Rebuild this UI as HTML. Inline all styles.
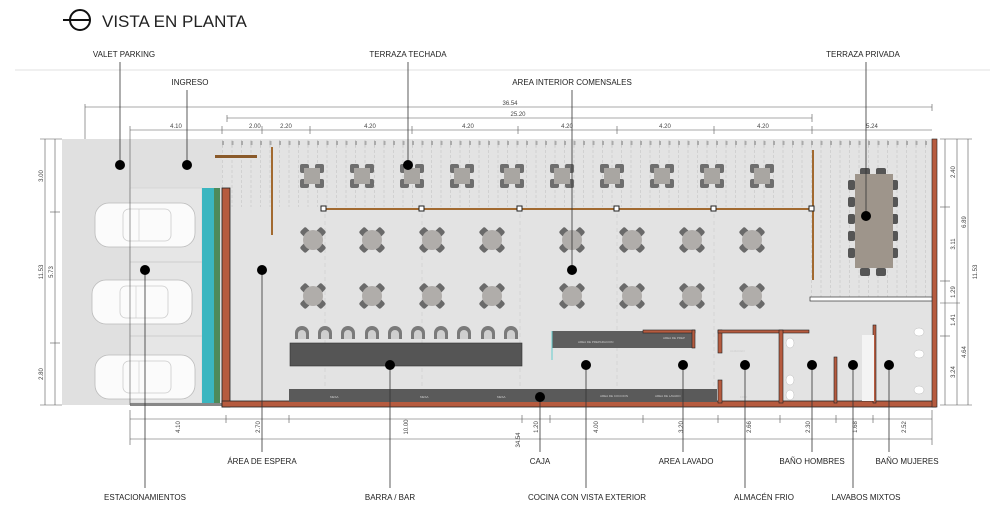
<!DOCTYPE html>
<html><head><meta charset="utf-8"><style>
html,body{margin:0;padding:0;background:#fff;width:1000px;height:528px;overflow:hidden}
svg{display:block;font-family:"Liberation Sans",Arial,sans-serif}
.lb{font-size:8px;fill:#222}
.dm{font-size:6px;fill:#444}
</style></head><body>
<svg width="1000" height="528" viewBox="0 0 1000 528" xmlns="http://www.w3.org/2000/svg">
<defs>
 <g id="t1"><g fill="#6e6e6e"><rect x="-12" y="-12" width="9" height="9" rx="2" transform="rotate(0)"/><rect x="3" y="-12" width="9" height="9" rx="2"/><rect x="-12" y="3" width="9" height="9" rx="2"/><rect x="3" y="3" width="9" height="9" rx="2"/></g><rect x="-8" y="-8" width="16" height="16" fill="#a9a6a2"/></g>
 <g id="t2"><g fill="#6a6a6a" transform="rotate(45)"><rect x="-4" y="-15" width="8" height="8" rx="2"/><rect x="-4" y="7" width="8" height="8" rx="2"/><rect x="-15" y="-4" width="8" height="8" rx="2"/><rect x="7" y="-4" width="8" height="8" rx="2"/></g><circle r="10" fill="#b0adaa"/></g>
 <g id="ch"><path d="M-7 6 V0 A7 7 0 0 1 7 0 V6 Z" fill="#7a7a7a"/><path d="M-4 6 V1 A4 4 0 0 1 4 1 V6 Z" fill="#cfcfcf"/></g>
 <g id="car"><rect x="0" y="0" width="100" height="44" rx="14" fill="#fbfbfb" stroke="#bbb" stroke-width="0.8"/><rect x="28" y="6" width="48" height="32" rx="6" fill="none" stroke="#ccc" stroke-width="0.8"/><line x1="44" y1="6" x2="44" y2="38" stroke="#ccc" stroke-width="0.6"/></g>
 <pattern id="sl" width="9.5" height="10" patternUnits="userSpaceOnUse"><line x1="4" y1="0" x2="4" y2="10" stroke="#c9c9c9" stroke-width="0.7" stroke-dasharray="3 2"/></pattern>
</defs>

<!-- title -->
<circle cx="80" cy="20" r="10" fill="none" stroke="#111" stroke-width="2"/>
<line x1="63" y1="20" x2="90" y2="20" stroke="#111" stroke-width="2"/>
<text x="102" y="27" font-size="17" fill="#222">VISTA EN PLANTA</text>
<line x1="15" y1="70" x2="990" y2="70" stroke="#e2e2e2"/>

<!-- floor -->
<rect x="62" y="139" width="870" height="266" fill="#e3e3e3"/>
<rect x="62" y="139" width="160" height="266" fill="#e0e0e0"/>
<rect x="130" y="188" width="72" height="215" fill="#e6e6e6" stroke="#cfcfcf" stroke-width="0.6"/>
<line x1="130" y1="262" x2="202" y2="262" stroke="#cfcfcf"/><line x1="130" y1="336" x2="202" y2="336" stroke="#cfcfcf"/>
<rect x="130" y="403" width="92" height="3" fill="#888"/>
<!-- terraces slats -->
<rect x="222" y="139" width="588" height="68" fill="url(#sl)"/>
<rect x="810" y="139" width="122" height="160" fill="url(#sl)"/>
<g fill="#ddd" stroke="#999" stroke-width="0.5">
<rect x="222" y="139" width="710" height="8" fill="url(#sl)" stroke="none"/>
</g>
<line x1="222" y1="143" x2="932" y2="143" stroke="#aaa" stroke-width="4" stroke-dasharray="2 7.5"/>
<!-- dashed grid -->
<g stroke="#cfcfcf" stroke-width="0.7" stroke-dasharray="4 3">
<line x1="325" y1="207" x2="325" y2="400"/><line x1="422" y1="207" x2="422" y2="400"/><line x1="520" y1="207" x2="520" y2="400"/><line x1="617" y1="207" x2="617" y2="400"/><line x1="714" y1="207" x2="714" y2="400"/>
</g>
<!-- cars -->
<use href="#car" x="95" y="203"/><use href="#car" x="92" y="280"/><use href="#car" x="95" y="355"/>
<!-- water -->
<rect x="202" y="188" width="18" height="215" fill="#3bb6c0"/>
<rect x="214" y="188" width="6" height="215" fill="#4e8a5a"/>
<!-- walls -->
<rect x="222" y="188" width="8" height="219" fill="#b65b3f" stroke="#222" stroke-width="0.8"/>
<rect x="222" y="401" width="714" height="6" fill="#b65b3f" stroke="#222" stroke-width="0.8"/>
<rect x="932" y="139" width="5" height="268" fill="#b65b3f" stroke="#222" stroke-width="0.6"/>
<rect x="215" y="155" width="42" height="3" fill="#8a5a2a"/>
<rect x="271" y="147" width="2" height="88" fill="#a26a30"/>
<rect x="325" y="208" width="488" height="2" fill="#a26a30"/>
<rect x="812" y="150" width="2" height="130" fill="#a26a30"/>
<g fill="#fff" stroke="#222" stroke-width="1"><rect x="321" y="206" width="5" height="5"/><rect x="419" y="206" width="5" height="5"/><rect x="517" y="206" width="5" height="5"/><rect x="614" y="206" width="5" height="5"/><rect x="711" y="206" width="5" height="5"/><rect x="809" y="206" width="5" height="5"/></g>
<rect x="810" y="297" width="122" height="4" fill="#fff" stroke="#333" stroke-width="0.7"/>
<!-- tables top row -->
<use href="#t1" x="312" y="176"/><use href="#t1" x="362" y="176"/><use href="#t1" x="412" y="176"/><use href="#t1" x="462" y="176"/><use href="#t1" x="512" y="176"/><use href="#t1" x="562" y="176"/><use href="#t1" x="612" y="176"/><use href="#t1" x="662" y="176"/><use href="#t1" x="712" y="176"/><use href="#t1" x="762" y="176"/>
<use href="#t2" x="313" y="240"/><use href="#t2" x="372" y="240"/><use href="#t2" x="432" y="240"/><use href="#t2" x="492" y="240"/><use href="#t2" x="572" y="240"/><use href="#t2" x="632" y="240"/><use href="#t2" x="692" y="240"/><use href="#t2" x="752" y="240"/>
<use href="#t2" x="313" y="296"/><use href="#t2" x="372" y="296"/><use href="#t2" x="432" y="296"/><use href="#t2" x="492" y="296"/><use href="#t2" x="572" y="296"/><use href="#t2" x="632" y="296"/><use href="#t2" x="692" y="296"/><use href="#t2" x="752" y="296"/>
<!-- bar chairs -->
<use href="#ch" x="302" y="333"/><use href="#ch" x="325" y="333"/><use href="#ch" x="348" y="333"/><use href="#ch" x="372" y="333"/><use href="#ch" x="395" y="333"/><use href="#ch" x="418" y="333"/><use href="#ch" x="441" y="333"/><use href="#ch" x="464" y="333"/><use href="#ch" x="488" y="333"/><use href="#ch" x="511" y="333"/>
<rect x="290" y="343" width="232" height="23" fill="#555" stroke="#333" stroke-width="0.6"/>
<rect x="289" y="389" width="428" height="13" fill="#5a5a5a"/>
<rect x="552" y="331" width="142" height="17" fill="#5e5e5e"/>
<line x1="552" y1="331" x2="552" y2="360" stroke="#6cc" stroke-width="1"/>
<!-- private table -->
<g fill="#555"><rect x="860" y="168" width="10" height="8" rx="2"/><rect x="876" y="168" width="10" height="8" rx="2"/><rect x="860" y="268" width="10" height="8" rx="2"/><rect x="876" y="268" width="10" height="8" rx="2"/>
<rect x="848" y="180" width="7" height="10" rx="2"/><rect x="848" y="197" width="7" height="10" rx="2"/><rect x="848" y="214" width="7" height="10" rx="2"/><rect x="848" y="231" width="7" height="10" rx="2"/><rect x="848" y="248" width="7" height="10" rx="2"/>
<rect x="891" y="180" width="7" height="10" rx="2"/><rect x="891" y="197" width="7" height="10" rx="2"/><rect x="891" y="214" width="7" height="10" rx="2"/><rect x="891" y="231" width="7" height="10" rx="2"/><rect x="891" y="248" width="7" height="10" rx="2"/></g>
<rect x="855" y="174" width="38" height="94" fill="#9e958b"/>
<!-- kitchen/bath walls -->
<g fill="#b65b3f" stroke="#222" stroke-width="0.6">
<rect x="643" y="330" width="52" height="3"/><rect x="692" y="330" width="3" height="18"/>
<rect x="718" y="330" width="4" height="23"/><rect x="718" y="380" width="4" height="23"/>
<rect x="718" y="330" width="91" height="3"/><rect x="779" y="330" width="4" height="73"/>
<rect x="834" y="357" width="3" height="46"/><rect x="873" y="325" width="3" height="78"/>
</g>
<rect x="862" y="335" width="12" height="66" fill="#f4f4f4"/>
<g fill="#fff" stroke="#bbb" stroke-width="0.5"><ellipse cx="790" cy="343" rx="4" ry="5"/><ellipse cx="790" cy="380" rx="4" ry="5"/><ellipse cx="790" cy="395" rx="4" ry="5"/><ellipse cx="919" cy="332" rx="5" ry="4"/><ellipse cx="919" cy="354" rx="5" ry="4"/><ellipse cx="919" cy="390" rx="5" ry="4"/></g>
<g fill="#ccc" font-size="3"><text x="578" y="343">AREA DE PREPARACION</text><text x="663" y="339">AREA DE PREP</text><text x="730" y="352">ALMACEN</text><text x="740" y="398">FRIO</text><text x="600" y="397">AREA DE COCCION</text><text x="655" y="397">AREA DE LAVADO</text><text x="330" y="398">MESA</text><text x="420" y="398">MESA</text><text x="497" y="398">MESA</text></g>

<!-- dimensions -->
<g stroke="#555" stroke-width="0.6" fill="none">
<line x1="85" y1="107" x2="932" y2="107"/><line x1="85" y1="104" x2="85" y2="139"/><line x1="932" y1="104" x2="932" y2="111"/>
<line x1="227" y1="118" x2="812" y2="118"/><line x1="227" y1="115" x2="227" y2="122"/><line x1="812" y1="114" x2="812" y2="122"/>
<line x1="130" y1="130" x2="932" y2="130"/>
<line x1="130" y1="126" x2="130" y2="405"/><line x1="222" y1="126" x2="222" y2="134"/><line x1="262" y1="126" x2="262" y2="134"/><line x1="310" y1="126" x2="310" y2="134"/><line x1="412" y1="126" x2="412" y2="134"/><line x1="518" y1="126" x2="518" y2="134"/><line x1="617" y1="126" x2="617" y2="134"/><line x1="714" y1="126" x2="714" y2="134"/><line x1="812" y1="126" x2="812" y2="134"/>
<line x1="130" y1="419" x2="932" y2="419"/>
<line x1="130" y1="410" x2="130" y2="445"/><line x1="226" y1="415" x2="226" y2="423"/><line x1="289" y1="415" x2="289" y2="423"/><line x1="522" y1="415" x2="522" y2="423"/><line x1="550" y1="415" x2="550" y2="423"/><line x1="643" y1="415" x2="643" y2="423"/><line x1="718" y1="415" x2="718" y2="423"/><line x1="780" y1="415" x2="780" y2="423"/><line x1="836" y1="415" x2="836" y2="423"/><line x1="873" y1="415" x2="873" y2="423"/><line x1="932" y1="410" x2="932" y2="445"/>
<line x1="130" y1="439" x2="932" y2="439"/>
<line x1="45" y1="139" x2="45" y2="405"/><line x1="55" y1="139" x2="55" y2="405"/>
<line x1="40" y1="139" x2="62" y2="139"/><line x1="40" y1="405" x2="62" y2="405"/><line x1="50" y1="212" x2="60" y2="212"/><line x1="50" y1="343" x2="60" y2="343"/>
<line x1="945" y1="139" x2="945" y2="405"/><line x1="957" y1="139" x2="957" y2="405"/><line x1="968" y1="139" x2="968" y2="405"/>
<line x1="940" y1="207" x2="950" y2="207"/><line x1="940" y1="281" x2="950" y2="281"/><line x1="940" y1="303" x2="960" y2="303"/><line x1="940" y1="336" x2="950" y2="336"/><line x1="940" y1="405" x2="972" y2="405"/><line x1="940" y1="139" x2="972" y2="139"/>
</g>
<g class="dm">
<text x="510" y="105" text-anchor="middle">36.54</text><text x="518" y="116" text-anchor="middle">25.20</text>
<text x="176" y="128" text-anchor="middle">4.10</text><text x="249" y="128">2.00</text><text x="286" y="128" text-anchor="middle">2.20</text><text x="370" y="128" text-anchor="middle">4.20</text><text x="468" y="128" text-anchor="middle">4.20</text><text x="567" y="128" text-anchor="middle">4.20</text><text x="665" y="128" text-anchor="middle">4.20</text><text x="763" y="128" text-anchor="middle">4.20</text><text x="872" y="128" text-anchor="middle">5.24</text>
<g transform="rotate(-90)">
<text x="-176" y="43" text-anchor="middle">3.00</text><text x="-272" y="43" text-anchor="middle">11.53</text><text x="-272" y="53" text-anchor="middle">5.73</text><text x="-374" y="43" text-anchor="middle">2.80</text>
<text x="-172" y="955" text-anchor="middle">2.40</text><text x="-244" y="955" text-anchor="middle">3.11</text><text x="-222" y="966" text-anchor="middle">6.89</text><text x="-292" y="955" text-anchor="middle">1.29</text><text x="-320" y="955" text-anchor="middle">1.41</text><text x="-372" y="955" text-anchor="middle">3.24</text><text x="-352" y="966" text-anchor="middle">4.64</text><text x="-272" y="977" text-anchor="middle">11.53</text>
<text x="-427" y="180" text-anchor="middle">4.10</text><text x="-427" y="260" text-anchor="middle">2.70</text><text x="-427" y="408" text-anchor="middle">10.00</text><text x="-427" y="538" text-anchor="middle">1.20</text><text x="-427" y="598" text-anchor="middle">4.00</text><text x="-427" y="683" text-anchor="middle">3.20</text><text x="-427" y="751" text-anchor="middle">2.66</text><text x="-427" y="810" text-anchor="middle">2.30</text><text x="-427" y="857" text-anchor="middle">1.68</text><text x="-427" y="906" text-anchor="middle">2.52</text><text x="-440" y="520" text-anchor="middle">34.54</text>
</g></g>

<!-- leaders -->
<g stroke="#333" stroke-width="0.8">
<line x1="120" y1="62" x2="120" y2="165"/><line x1="187" y1="90" x2="187" y2="165"/><line x1="408" y1="62" x2="408" y2="165"/><line x1="572" y1="90" x2="572" y2="270"/><line x1="866" y1="62" x2="866" y2="216"/>
<line x1="145" y1="270" x2="145" y2="488"/><line x1="262" y1="270" x2="262" y2="452"/><line x1="390" y1="365" x2="390" y2="488"/><line x1="540" y1="397" x2="540" y2="452"/><line x1="586" y1="365" x2="586" y2="488"/><line x1="683" y1="365" x2="683" y2="452"/><line x1="745" y1="365" x2="745" y2="488"/><line x1="812" y1="365" x2="812" y2="452"/><line x1="853" y1="365" x2="853" y2="488"/><line x1="889" y1="365" x2="889" y2="452"/>
</g>
<g fill="#000">
<circle cx="120" cy="165" r="5"/><circle cx="187" cy="165" r="5"/><circle cx="408" cy="165" r="5"/><circle cx="572" cy="270" r="5"/><circle cx="866" cy="216" r="5"/>
<circle cx="145" cy="270" r="5"/><circle cx="262" cy="270" r="5"/><circle cx="390" cy="365" r="5"/><circle cx="540" cy="397" r="5"/><circle cx="586" cy="365" r="5"/><circle cx="683" cy="365" r="5"/><circle cx="745" cy="365" r="5"/><circle cx="812" cy="365" r="5"/><circle cx="853" cy="365" r="5"/><circle cx="889" cy="365" r="5"/>
</g>
<g class="lb" text-anchor="middle">
<text x="124" y="57">VALET PARKING</text><text x="190" y="85">INGRESO</text><text x="408" y="57">TERRAZA TECHADA</text><text x="572" y="85">AREA INTERIOR COMENSALES</text><text x="863" y="57">TERRAZA PRIVADA</text>
<text x="262" y="464">ÁREA DE ESPERA</text><text x="540" y="464">CAJA</text><text x="686" y="464">AREA LAVADO</text><text x="812" y="464">BAÑO HOMBRES</text><text x="907" y="464">BAÑO MUJERES</text>
<text x="145" y="500">ESTACIONAMIENTOS</text><text x="390" y="500">BARRA / BAR</text><text x="587" y="500">COCINA CON VISTA EXTERIOR</text><text x="764" y="500">ALMACÉN   FRIO</text><text x="866" y="500">LAVABOS MIXTOS</text>
</g>
</svg>
</body></html>
